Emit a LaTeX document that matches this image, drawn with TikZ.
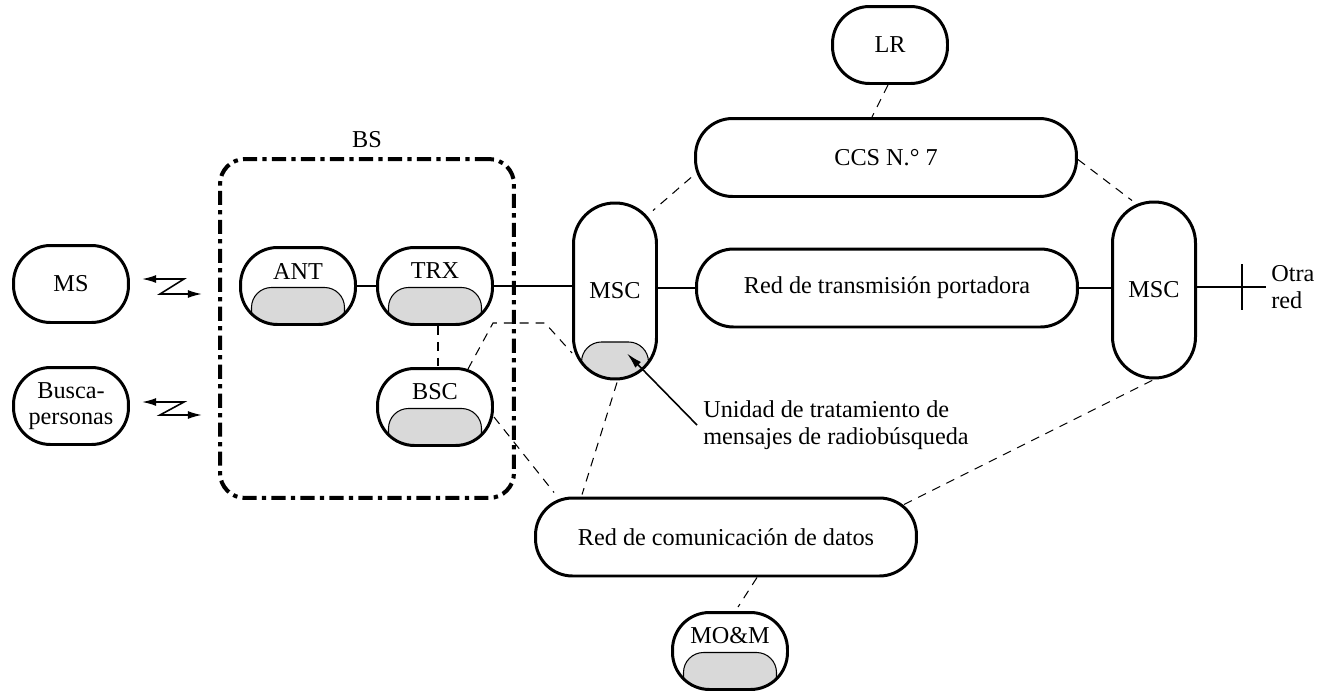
\documentclass[tikz,border=0pt]{standalone}
\usepackage{fontspec}
\setmainfont{Liberation Serif}
\newfontfamily\timesfont{Liberation Serif}
\usetikzlibrary{arrows.meta}

\begin{document}
\begin{tikzpicture}[
    x=0.02cm, y=-0.02cm,
    every node/.style={font=\timesfont\fontsize{13.8}{15}\selectfont},
    box/.style={draw, line width=1.7pt, rounded corners=0.74cm,
      minimum width=2.3cm, minimum height=1.54cm, inner sep=2pt, align=center},
    wide/.style={box, minimum width=7.62cm, minimum height=1.56cm},
    tall/.style={box, rounded corners=0.82cm, minimum width=1.66cm, minimum height=3.52cm},
    cell/.style={path picture={\filldraw[fill=gray!30, line width=0.6pt, rounded corners=0.4cm]
        ([shift={(#1,40)}]path picture bounding box.south west) rectangle
        ([shift={(-#1,-37)}]path picture bounding box.south east);}},
    cell/.default=11,
    toptext/.style={label={[anchor=center, yshift=-0.5cm]north:#1}},
    wire/.style={line width=0.9pt},
    link/.style={line width=0.6pt, dash pattern=on 5pt off 4pt},
    radio/.style={line width=0.9pt, {Latex[length=8pt,width=4.5pt]}-{Latex[length=8pt,width=4.5pt]}},
    bsframe/.style={draw, line width=2.3pt, rounded corners=0.5cm,
      dash pattern=on 8pt off 3pt on 2.5pt off 3pt}
  ]
  \useasboundingbox (0,0) rectangle (1318,690);

  % mobile side
  \node[box] (ms) at (71,284) {MS};
  \node[box] (busca) at (71,406) {Busca-\\personas};

  % base station
  \node[bsframe, minimum width=5.88cm, minimum height=6.78cm,
    label={[label distance=2pt]above:BS}] (bs) at (367,328.5) {};
  \node[box, cell, toptext=ANT] (ant) at (298,286) {};
  \node[box, cell, toptext=TRX] (trx) at (435,286) {};
  \node[box, cell, toptext=BSC] (bsc) at (435,407) {};

  % switching and networks
  \node[tall, cell=8] (msc1) at (615,291) {MSC};
  \node[wide] (redtx) at (887,288) {Red de transmisión portadora};
  \node[tall] (msc2) at (1154,290) {MSC};
  \node[box] (lr) at (890,45) {LR};
  \node[wide] (ccs) at (886,157.5) {CCS N.° 7};
  \node[wide] (datos) at (726,537) {Red de comunicación de datos};
  \node[box, cell, toptext=MO\&M] (mom) at (730,651) {};

  \node[anchor=west, align=left, inner sep=0pt] (unidad) at (703,425)
    {Unidad de tratamiento de\\mensajes de radiobúsqueda};
  \coordinate (otra) at (1266,287);
  \node[anchor=west, align=left, inner sep=0pt] (otralbl) at (1271,287) {Otra\\red};

  % radio paths
  \draw[radio] ([shift={(12,-5)}]ms.east) -- ++(42,0) -- ++(-24,15) -- ++(42,0);
  \draw[radio] ([shift={(12,-4)}]busca.east) -- ++(42,0) -- ++(-24,13) -- ++(42,0);

  % solid links
  \draw[wire] (ant) -- (trx);
  \draw[wire] (trx) -- (trx -| msc1.west);
  \draw[wire] (redtx) -- (redtx -| msc1.east);
  \draw[wire] (redtx) -- (redtx -| msc2.west);
  \draw[wire] (msc2.east |- otra) -- (otra);
  \draw[wire] ([shift={(-24,-23)}]otra) -- ([shift={(-24,23)}]otra);
  \draw[wire, -{Latex[length=9pt,width=4.5pt]}] ([shift={(-6,0)}]unidad.west)
    -- ([shift={(12,-27)}]msc1.south);

  % signalling links
  \draw[link] ([shift={(-2,0)}]lr.south) -- ([shift={(-14,0)}]ccs.north);
  \draw[link] ([shift={(-3,20)}]ccs.west) -- ([shift={(-5,9)}]msc1.north east);
  \draw[link] ([shift={(0,2)}]ccs.east) -- ([shift={(-22,0)}]msc2.north);
  \draw[link] ([shift={(3,0)}]trx.south) -- ([shift={(3,0)}]bsc.north);
  \draw[link] ([shift={(33,2)}]bsc.north) -- ++(25,-46) -- ++(52,0)
    -- ([shift={(0,62)}]msc1.west);
  \draw[link] ([shift={(0,10)}]bsc.east) -- ([shift={(20,-4)}]datos.north west);
  \draw[link] ([shift={(2,2)}]msc1.south) -- ([shift={(48,-2)}]datos.north west);
  \draw[link] ([shift={(-14,8)}]datos.north east) -- (msc2.south);
  \draw[link] ([shift={(31,0)}]datos.south) -- ([shift={(8,-4)}]mom.north);
\end{tikzpicture}
\end{document}
